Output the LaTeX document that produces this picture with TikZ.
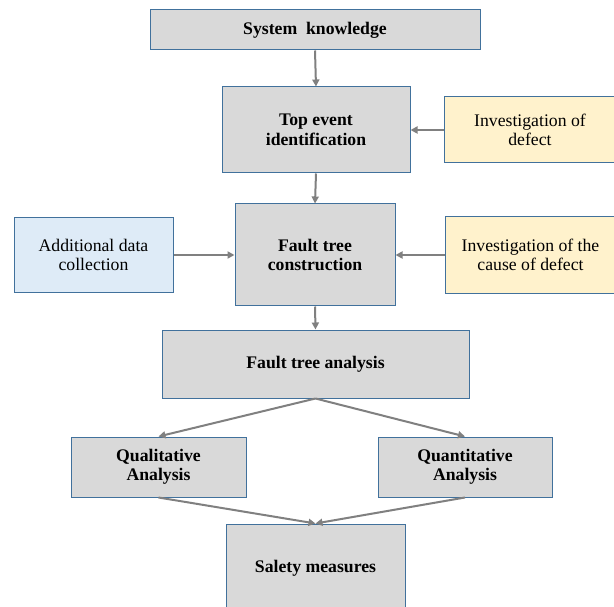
\documentclass[tikz,border=0pt]{standalone}
\usepackage{fontspec}
\setmainfont{Liberation Serif}
\usetikzlibrary{arrows.meta}
\definecolor{boxgrey}{HTML}{D9D9D9}
\definecolor{boxline}{HTML}{41719C}
\definecolor{boxyellow}{HTML}{FFF2CC}
\definecolor{boxblue}{HTML}{DEEBF7}
\definecolor{arrowgrey}{HTML}{808080}
\tikzset{
  base/.style={draw=boxline, line width=1pt, inner sep=0pt, align=center,
    font=\fontsize{17.7}{19.5}\selectfont},
  greybox/.style={base, fill=boxgrey, font=\fontsize{17.7}{19.5}\selectfont\bfseries},
  yellowbox/.style={base, fill=boxyellow},
  bluebox/.style={base, fill=boxblue},
  conn/.style={draw=arrowgrey, line width=2pt, -{Triangle[length=7pt,width=7pt]}},
  sz/.style 2 args={minimum width=#1pt, minimum height=#2pt}
}
\begin{document}
\begin{tikzpicture}[x=1pt,y=1pt]
\clip (0,0) rectangle (614,-607);
\fill[white] (0,0) rectangle (614,-607);
\node[greybox, sz={330}{40}] (sys) at (315,-30) {System\ \ knowledge};
\node[greybox, sz={188}{86}] (top) at (316,-130) {Top event\\identification};
\node[yellowbox, sz={172}{66}] (invd) at (530,-130) {Investigation of\\defect};
\node[greybox, sz={160}{102}] (ftc) at (315,-255) {Fault tree\\construction};
\node[bluebox, sz={159}{75}] (add) at (93.5,-255) {Additional data\\collection};
\node[yellowbox, sz={171}{77}] (invc) at (530.5,-255) {Investigation of the\\cause of defect};
\node[greybox, sz={307}{68}] (fta) at (315.5,-364) {Fault tree analysis};
\node[greybox, sz={175}{60}] (qual) at (158.5,-467) {Qualitative\\Analysis};
\node[greybox, sz={174}{60}] (quan) at (465,-467) {Quantitative\\Analysis};
\node[greybox, sz={179}{88}] (safe) at (315.5,-568) {Salety measures};
\draw[conn] (sys.south) -- (top.north);
\draw[conn] (invd.west) -- (top.east);
\draw[conn] (top.south) -- (ftc.north);
\draw[conn] (add.east) -- (ftc.west);
\draw[conn] (invc.west) -- (ftc.east);
\draw[conn] (ftc.south) -- (fta.north);
\draw[conn] (fta.south) -- (qual.north);
\draw[conn] (fta.south) -- (quan.north);
\draw[conn] (qual.south) -- (safe.north);
\draw[conn] (quan.south) -- (safe.north);
\end{tikzpicture}
\end{document}
